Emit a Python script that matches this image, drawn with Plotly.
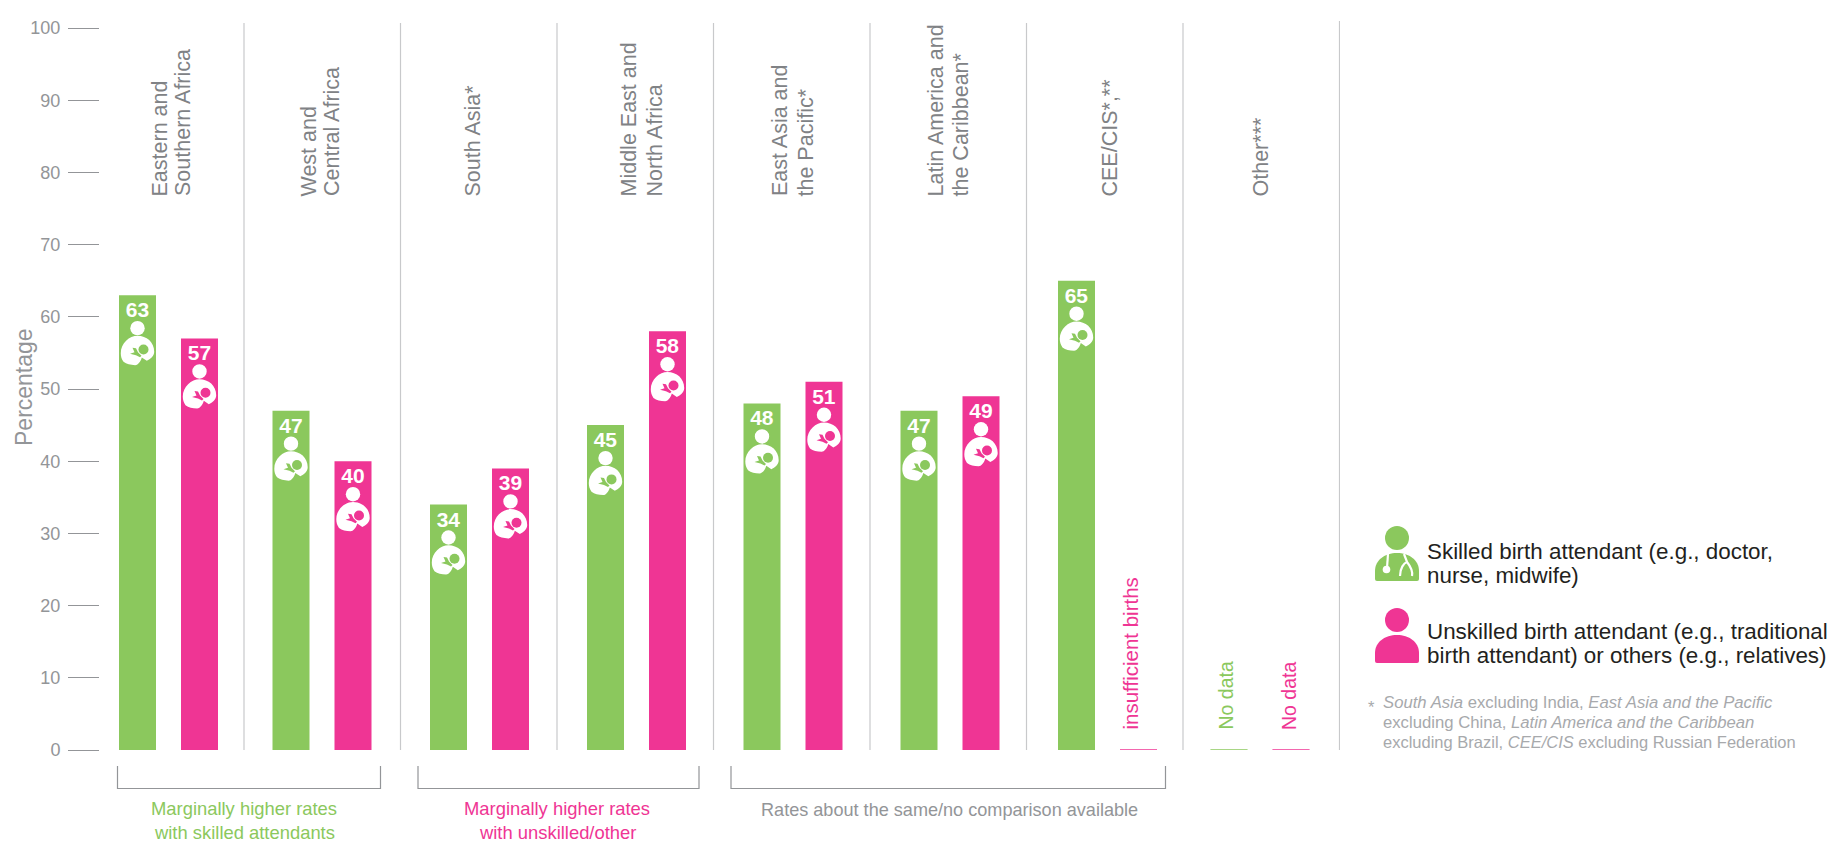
import plotly.graph_objects as go

# ---- data ----
REGIONS = [["Eastern and", "Southern Africa"], ["West and", "Central Africa"], ["South Asia*"],
           ["Middle East and", "North Africa"], ["East Asia and", "the Pacific*"],
           ["Latin America and", "the Caribbean*"], ["CEE/CIS*,**"], ["Other***"]]
SKILLED = [63, 47, 34, 45, 48, 47, 65, 0]
UNSKILLED = [57, 40, 39, 58, 51, 49, 0, 0]
Y_TICKS = [0, 10, 20, 30, 40, 50, 60, 70, 80, 90, 100]

# ---- style ----
GREEN = "#8bc85d"
PINK = "#ef3594"
GREY = "#939598"
LABEL = "#808285"
LINE = "#c8c9cb"
SANS = "Liberation Sans"

W, H = 1834, 842
L, R, T, B = 100, 1340, 23, 750      # plot box in page pixels
STEP = 156.5                         # pixels per region
Y_UNIT = 7.22                        # pixels per percentage point
BAR_W = 37 / STEP
NUDGE = [2.75, -0.25, 0.75, 1.25, 1.25, 1.75, 2.75, -1.25]   # layout nudge of each region's pair, pixels
G_OFF = [(-31 - 18.5 + n) / STEP for n in NUDGE]
P_OFF = [(31 - 18.5 + n) / STEP for n in NUDGE]
LABEL_X = [[159, 183], [308, 332], [472], [628, 654], [780, 805], [935, 960], [1109], [1260]]


def px(x):
    return (x - L) / (R - L)


def py(y):
    return (B - y) / (B - T)


fig = go.Figure()
for vals, col, off, name in [(SKILLED, GREEN, G_OFF, "Skilled"), (UNSKILLED, PINK, P_OFF, "Unskilled")]:
    fig.add_bar(
        x=list(range(len(REGIONS))), y=vals, width=BAR_W, offset=off, name=name,
        marker=dict(color=col, line=dict(color=col, width=[1 if v == 0 else 0 for v in vals])),
        text=[str(v) if v else "" for v in vals], textposition="inside", insidetextanchor="end",
        textangle=0, constraintext="none", cliponaxis=False,
        textfont=dict(family=SANS, size=21, color="white", weight=700),
    )

shapes = []


def circle(cx, cy, r, color, xa, ya, xref="x", yref="y"):
    shapes.append(dict(type="circle", xref=xref, yref=yref, xsizemode="pixel", ysizemode="pixel",
                       xanchor=xa, yanchor=ya, x0=cx - r, x1=cx + r, y0=-cy - r, y1=-cy + r,
                       fillcolor=color, line_width=0, layer="above"))


def pixpath(d, color, xa, ya, xref="x", yref="y", stroke=None):
    """d: list of (cmd, x, y, ...) with y measured downwards from the anchor"""
    s = ""
    for seg in d:
        s += seg[0]
        nums = seg[1:]
        s += " ".join(f"{nums[i]},{-nums[i + 1]}" for i in range(0, len(nums), 2)) + " "
    shapes.append(dict(type="path", xref=xref, yref=yref, xsizemode="pixel", ysizemode="pixel",
                       xanchor=xa, yanchor=ya, path=s.strip(),
                       fillcolor=color if stroke is None else "rgba(0,0,0,0)",
                       line=dict(width=0 if stroke is None else stroke, color=color), layer="above"))


def mother_icon(i, val, off, col):
    xa = i + off[i] + BAR_W / 2
    circle(0, 33, 7.2, "white", xa, val)
    pixpath([("M", -16.7, 58), ("C", -16.7, 48, -8, 40.7, 0, 40.7), ("C", 9, 40.7, 16.7, 47, 16.7, 56.7),
             ("C", 16.7, 61, 13, 64, 9.3, 65.7), ("L", 4.3, 62.3), ("C", 3, 67, 0, 70, -2.3, 70),
             ("C", -7, 70, -11, 69, -14, 66.7), ("C", -16, 64, -16.7, 61, -16.7, 58), ("Z",)], "white", xa, val)
    circle(6, 54.3, 5, col, xa, val)
    pixpath([("M", -7.5, 58.5), ("L", -3, 57), ("L", -5, 52.5), ("L", -1.5, 53), ("L", 0.5, 57),
             ("L", 4, 60.5), ("L", 2.5, 62), ("L", -1.5, 60), ("Z",)], col, xa, val)


for i, v in enumerate(SKILLED):
    if v:
        mother_icon(i, v, G_OFF, GREEN)
for i, v in enumerate(UNSKILLED):
    if v:
        mother_icon(i, v, P_OFF, PINK)

# region dividers
for i in range(len(REGIONS)):
    shapes.append(dict(type="line", xref="x", yref="paper", x0=i + 0.5, x1=i + 0.5, y0=0,
                       y1=1.0 if i < 7 else py(21), line=dict(color=LINE, width=1.2), layer="below"))

# brackets
for x0, x1 in [(117.5, 380.5), (418, 699), (731, 1165.5)]:
    shapes.append(dict(type="path", xref="paper", yref="paper",
                       path=f"M{px(x0)},{py(766)} L{px(x0)},{py(788.5)} L{px(x1)},{py(788.5)} L{px(x1)},{py(766)}",
                       line=dict(color=GREY, width=1.2), fillcolor="rgba(0,0,0,0)"))

# legend icons
BODY = [("M", -22, 41), ("Q", -22, 43, -20, 43), ("L", 20, 43), ("Q", 22, 43, 22, 41), ("L", 22, 33),
        ("C", 22, 22, 12, 15, 0, 15), ("C", -12, 15, -22, 22, -22, 33), ("Z",)]
for cy, col in [(538, GREEN), (620, PINK)]:
    xa, ya = px(1397), py(cy)
    circle(0, 0, 12, col, xa, ya, "paper", "paper")
    pixpath(BODY, col, xa, ya, "paper", "paper")
xa, ya = px(1397), py(538)
pixpath([("M", -9, 16), ("L", -10, 30)], "white", xa, ya, "paper", "paper", stroke=2.2)
circle(-10.5, 31.5, 3.8, "white", xa, ya, "paper", "paper")
pixpath([("M", 7, 16), ("L", 10, 24), ("C", 14, 29, 16, 33, 15, 38)], "white", xa, ya, "paper", "paper", stroke=2.2)
pixpath([("M", 3, 38), ("C", 3, 30, 7, 25, 10, 24)], "white", xa, ya, "paper", "paper", stroke=2.2)

ann = []


def line_text(x, baseline, text, size, color, xanchor="left"):
    """one text line placed by its baseline in page pixels"""
    ann.append(dict(xref="paper", yref="paper", x=px(x), y=py(baseline - 0.33 * size), text=text, showarrow=False,
                    xanchor=xanchor, yanchor="middle", font=dict(family=SANS, size=size, color=color)))


# axis title
ann.append(dict(xref="paper", yref="paper", x=px(24.5), y=py(387.5), text="Percentage", textangle=-90, showarrow=False,
                xanchor="center", yanchor="middle", font=dict(family=SANS, size=23, color=GREY)))

# region labels, rotated
for lines, xs in zip(REGIONS, LABEL_X):
    for txt, x in zip(lines, xs):
        ann.append(dict(xref="paper", yref="paper", x=px(x), y=py(198.5), text=txt, textangle=-90, showarrow=False,
                        xanchor="center", yanchor="bottom", font=dict(family=SANS, size=21.5, color=LABEL)))

# missing-value notes, rotated
NOTE_BOTTOM = (B - 732) / Y_UNIT
for i, off, txt, col, shift, size in [(6, P_OFF, "insufficient births", PINK, -9, 20.5),
                                      (7, G_OFF, "No data", GREEN, -3.5, 19.5),
                                      (7, P_OFF, "No data", PINK, -2, 19.5)]:
    ann.append(dict(x=i + off[i] + BAR_W / 2, y=NOTE_BOTTOM, xshift=shift, text=txt, textangle=-90, showarrow=False,
                    xanchor="center", yanchor="bottom", font=dict(family=SANS, size=size, color=col)))

# bracket captions
line_text(244, 815, "Marginally higher rates", 18.4, GREEN, "center")
line_text(244, 839, "with skilled attendants", 18.4, GREEN, "center")
line_text(557, 815, "Marginally higher rates", 18.4, PINK, "center")
line_text(557, 839, "with unskilled/other", 18.4, PINK, "center")
line_text(949.5, 816, "Rates about the same/no comparison available", 18.1, GREY, "center")

# legend text
INK = "#231f20"
line_text(1425, 559, "Skilled birth attendant (e.g., doctor,", 22.4, INK)
line_text(1425, 583, "nurse, midwife)", 22.4, INK)
line_text(1425, 638.5, "Unskilled birth attendant (e.g., traditional", 22.4, INK)
line_text(1425, 663, "birth attendant) or others (e.g., relatives)", 22.4, INK)

# footnote
NOTE = "#a7a9ac"
line_text(1366, 712, "*", 16.5, NOTE)
line_text(1380.5, 708.5, "<i>South Asia</i> excluding India, <i>East Asia and the Pacific</i>", 16.7, NOTE)
line_text(1380.5, 728, "excluding China, <i>Latin America and the Caribbean</i>", 16.7, NOTE)
line_text(1380.5, 747, "excluding Brazil, <i>CEE/CIS</i> excluding Russian Federation", 16.5, NOTE)

fig.update_layout(
    width=W, height=H, autosize=False, showlegend=False, barmode="overlay",
    paper_bgcolor="white", plot_bgcolor="white",
    margin=dict(l=L, r=W - R, t=T, b=H - B, pad=0, autoexpand=False),
    font=dict(family=SANS, color=GREY),
    xaxis=dict(visible=False, range=[0.5 - (244 - L) / STEP, 0.5 + (R - 244) / STEP], fixedrange=True),
    yaxis=dict(range=[0, (B - T) / Y_UNIT], tickmode="array", tickvals=Y_TICKS, ticks="outside", ticklen=31,
               tickwidth=1.4, tickcolor=GREY, showgrid=False, zeroline=False, showline=False, automargin=False,
               ticklabelstandoff=4, tickfont=dict(family=SANS, size=18, color=GREY), fixedrange=True),
    shapes=shapes, annotations=ann,
)
fig.write_html("out.html", config={"displayModeBar": False},
               post_script="document.body.style.margin='0';")
